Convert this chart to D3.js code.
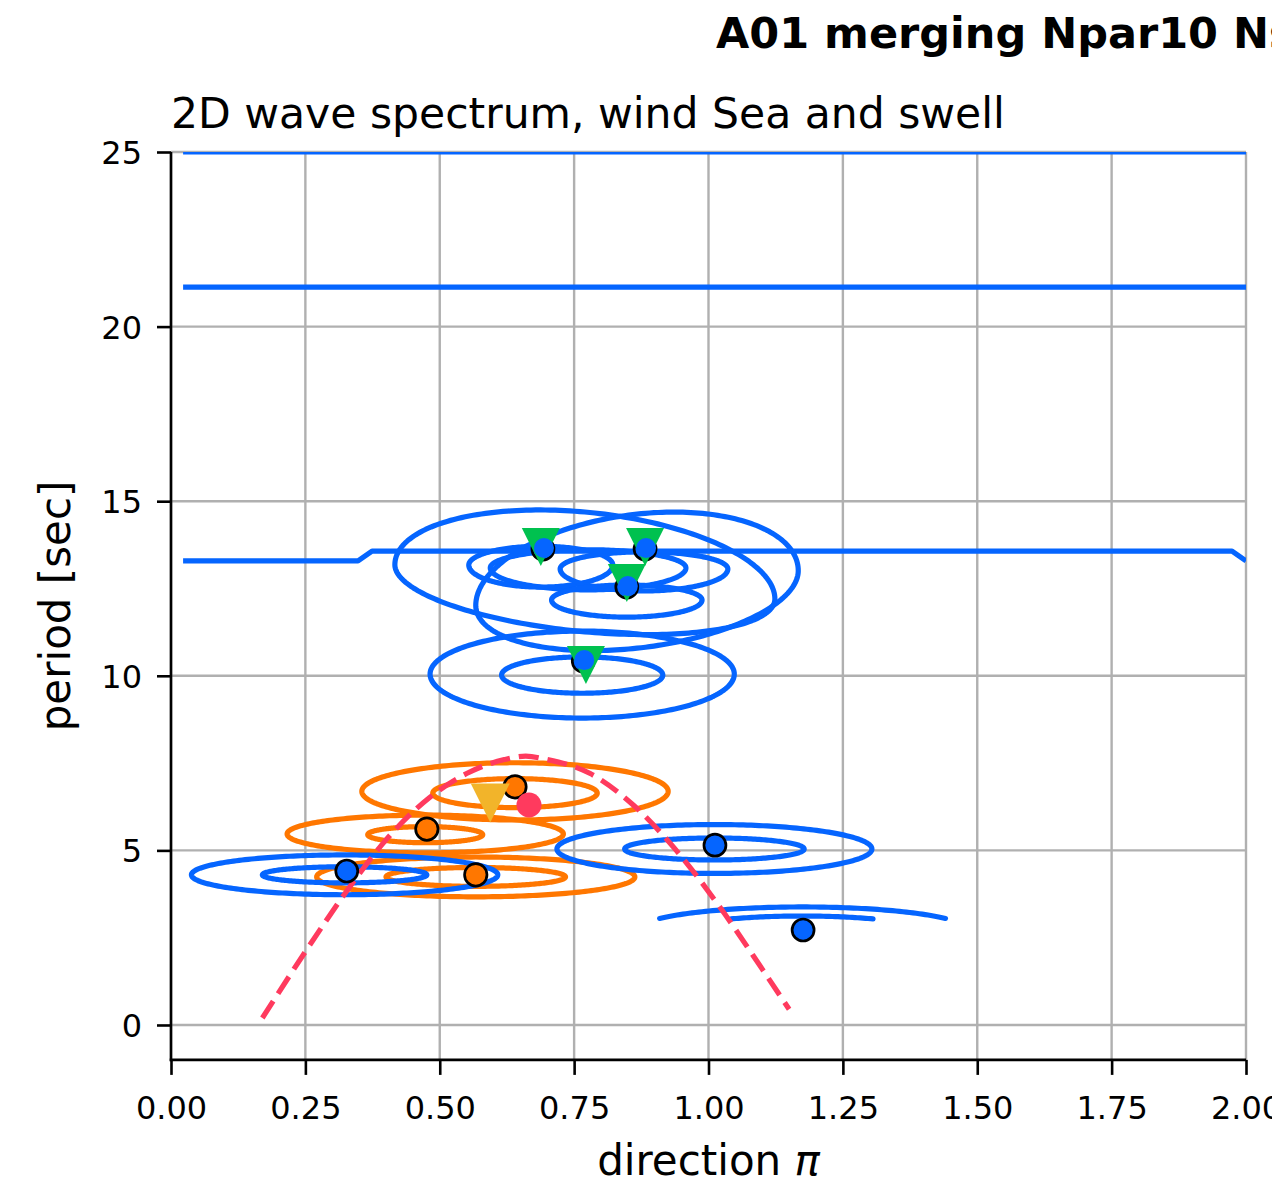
<!DOCTYPE html>
<html><head><meta charset="utf-8">
<script src="https://cdn.jsdelivr.net/npm/d3@7"></script>
<style>
body{margin:0;background:#fff;}
svg{display:block;}
text{font-family:"DejaVu Sans",sans-serif;fill:#000;}
</style>
</head><body>
<svg id="chart" width="1272" height="1188"></svg>
<script>
// ---------------- data ----------------
const xTicks = [0, 0.25, 0.5, 0.75, 1.0, 1.25, 1.5, 1.75, 2.0];
const yTicks = [0, 5, 10, 15, 20, 25];
const suptitleText = "A01 merging Npar10 Ns";
const titleText = "2D wave spectrum, wind Sea and swell";
const xLabelText = "direction ";
const yLabelText = "period [sec]";

// swell separation lines (direction in units of pi, period in s)
const sepLine1Dir = [0.0225, 2.0];
const sepLine1Per = [25.0, 25.0];
const sepLine2Dir = [0.0225, 2.0];
const sepLine2Per = [21.13, 21.13];
const sepLine3Dir = [0.0225, 0.348, 0.374, 1.974, 2.0];
const sepLine3Per = [13.29, 13.29, 13.57, 13.57, 13.29];

// contour shapes: [centerDir, centerPer, halfWidthDir, upperHalfHeight, lowerHalfHeight, tilt, lowerCutPer]
const swellContours = [
  [0.770, 12.69, 0.3535, 2.00, 1.43, -1.385, null],
  [0.867, 12.51, 0.300, 2.12, 1.72, 1.66, null],
  [0.776, 13.09, 0.182, 0.52, 0.63, 0, null],
  [0.688, 13.17, 0.134, 0.54, 0.63, 0, null],
  [0.880, 13.06, 0.156, 0.49, 0.63, 0, null],
  [0.848, 12.17, 0.140, 0.43, 0.49, 0, null],
  [0.765, 10.05, 0.283, 1.23, 1.26, 0, null],
  [0.765, 10.02, 0.150, 0.52, 0.52, 0, null],
  [0.323, 4.30, 0.285, 0.57, 0.57, 0, null],
  [0.323, 4.30, 0.153, 0.23, 0.23, 0, null],
  [1.011, 5.04, 0.293, 0.70, 0.70, 0, null],
  [1.011, 5.04, 0.167, 0.315, 0.315, 0, null],
  [1.175, 2.72, 0.307, 0.66, 0.66, 0, 3.035],
  [1.174, 2.72, 0.217, 0.40, 0.40, 0, 3.035]
];
const windSeaContours = [
  [0.640, 6.69, 0.285, 0.82, 0.82, 0, null],
  [0.640, 6.64, 0.153, 0.415, 0.415, 0, null],
  [0.473, 5.47, 0.257, 0.54, 0.54, 0, null],
  [0.473, 5.45, 0.107, 0.23, 0.23, 0, null],
  [0.567, 4.24, 0.296, 0.57, 0.57, 0, null],
  [0.567, 4.24, 0.167, 0.27, 0.27, 0, null]
];

// wind-sea limit curve
const windSeaDir = [0.17, 0.25, 0.33, 0.40, 0.48, 0.55, 0.62, 0.66, 0.70, 0.78, 0.86, 0.94, 1.02, 1.10, 1.15];
const windSeaPer = [0.2, 2.1, 3.9, 5.3, 6.5, 7.2, 7.6, 7.7, 7.6, 7.2, 6.3, 5.0, 3.4, 1.6, 0.45];

// peaks
const swellPeakDir = [0.692, 0.882, 0.848, 0.767, 0.327, 1.012, 1.176];
const swellPeakPer = [13.63, 13.63, 12.54, 10.42, 4.41, 5.15, 2.72];
const mergedPeakDir = [0.692, 0.882, 0.848, 0.767];
const mergedPeakPer = [13.63, 13.63, 12.54, 10.42];
const mergedTriDir = [0.688, 0.882, 0.848, 0.772];
const mergedTriPer = [13.69, 13.69, 12.66, 10.31];
const windSeaPeakDir = [0.476, 0.640, 0.567];
const windSeaPeakPer = [5.61, 6.82, 4.30];
const windPeakDir = [0.666];
const windPeakPer = [6.30];
const windTriDir = [0.594];
const windTriPer = [6.36];

// ---------------- drawing ----------------
const BLUE = "#0565ff", ORANGE = "#ff7700", RED = "#ff3a5e", GREEN = "#00c14f", GOLD = "#f2b42a";
const LW = 5.2;
const svg = d3.select("#chart");
const x = d3.scaleLinear().domain([0, 2]).range([171, 1246]);
const y = d3.scaleLinear().domain([-1, 25]).range([1059.9, 152]);

svg.append("defs").append("clipPath").attr("id", "plotclip")
  .append("rect").attr("x", x(0)).attr("y", y(25)).attr("width", x(2) - x(0)).attr("height", y(-1) - y(25));

// grid
const grid = svg.append("g");
grid.selectAll("line.vx").data(xTicks).join("line")
  .attr("x1", d => x(d)).attr("x2", d => x(d)).attr("y1", y(25)).attr("y2", y(-1))
  .attr("stroke", "#b0b0b0").attr("stroke-width", 2.4);
grid.selectAll("line.hy").data(yTicks).join("line")
  .attr("x1", x(0)).attr("x2", x(2)).attr("y1", d => y(d)).attr("y2", d => y(d))
  .attr("stroke", "#b0b0b0").attr("stroke-width", 2.4);

const plot = svg.append("g").attr("clip-path", "url(#plotclip)");

function contourPoints(c) {
  const [cx, cy, rx, ryT, ryB, tilt, cut] = c;
  const pts = [];
  const n = 240;
  for (let i = 0; i <= n; i++) {
    const t = i / n * 2 * Math.PI;
    const co = Math.cos(t), si = Math.sin(t);
    const ry = si >= 0 ? ryT : ryB;
    const dx = rx * co;
    const px = cx + dx, py = cy + ry * si + tilt * dx;
    if (cut !== null) {
      if (si < 0 || py < cut) continue;
    }
    pts.push([px, py]);
  }
  return pts;
}
const line = d3.line().x(d => x(d[0])).y(d => y(d[1]));

function drawContours(list, color) {
  plot.append("g").selectAll("path").data(list).join("path")
    .attr("d", c => line(contourPoints(c)) + (c[6] === null ? "Z" : ""))
    .attr("fill", "none").attr("stroke", color).attr("stroke-width", LW)
    .attr("stroke-linejoin", "round").attr("stroke-linecap", "round");
}
drawContours(windSeaContours, ORANGE);
drawContours(swellContours, BLUE);

const sepLines = [
  d3.zip(sepLine1Dir, sepLine1Per),
  d3.zip(sepLine2Dir, sepLine2Per),
  d3.zip(sepLine3Dir, sepLine3Per)
];
plot.append("g").selectAll("path").data(sepLines).join("path")
  .attr("d", line).attr("fill", "none").attr("stroke", BLUE).attr("stroke-width", LW)
  .attr("stroke-linejoin", "round");

// wind sea limit
plot.append("path")
  .attr("d", d3.line().x(d => x(d[0])).y(d => y(d[1])).curve(d3.curveMonotoneX)(d3.zip(windSeaDir, windSeaPer)))
  .attr("fill", "none").attr("stroke", RED).attr("stroke-width", LW).attr("stroke-dasharray", "20,9");

// peaks
const g = plot.append("g");
g.selectAll("circle.sw").data(d3.zip(swellPeakDir, swellPeakPer)).join("circle")
  .attr("cx", d => x(d[0])).attr("cy", d => y(d[1])).attr("r", 11)
  .attr("fill", BLUE).attr("stroke", "#000").attr("stroke-width", 2.7);
g.selectAll("circle.ws").data(d3.zip(windSeaPeakDir, windSeaPeakPer)).join("circle")
  .attr("cx", d => x(d[0])).attr("cy", d => y(d[1])).attr("r", 11.2)
  .attr("fill", ORANGE).attr("stroke", "#000").attr("stroke-width", 2.7);

function triPath(d, h) {
  const cx = x(d[0]), cy = y(d[1]);
  return `M${cx - h},${cy - h}L${cx + h},${cy - h}L${cx},${cy + h}Z`;
}
g.selectAll("path.wt").data(d3.zip(windTriDir, windTriPer)).join("path")
  .attr("d", d => triPath(d, 19.5)).attr("fill", GOLD);
g.selectAll("circle.wp").data(d3.zip(windPeakDir, windPeakPer)).join("circle")
  .attr("cx", d => x(d[0])).attr("cy", d => y(d[1])).attr("r", 12.5).attr("fill", RED);
g.selectAll("path.mt").data(d3.zip(mergedTriDir, mergedTriPer)).join("path")
  .attr("d", d => triPath(d, 19)).attr("fill", GREEN);
g.selectAll("circle.mp").data(d3.zip(mergedPeakDir, mergedPeakPer)).join("circle")
  .attr("cx", d => x(d[0]) + 1).attr("cy", d => y(d[1]) - 1).attr("r", 10).attr("fill", BLUE);

// axes
const xAxis = d3.axisBottom(x).tickValues(xTicks).tickFormat(d3.format(".2f")).tickSize(15).tickPadding(21).tickSizeOuter(0);
const yAxis = d3.axisLeft(y).tickValues(yTicks).tickFormat(d3.format("d")).tickSize(14).tickPadding(15).tickSizeOuter(0);
const gx = svg.append("g").attr("transform", `translate(0,${y(-1)})`).call(xAxis);
const gy = svg.append("g").attr("transform", `translate(${x(0)},0)`).call(yAxis);
[gx, gy].forEach(a => {
  a.select(".domain").remove();
  a.selectAll(".tick line").attr("stroke", "#000").attr("stroke-width", 2.6);
  a.selectAll(".tick text").attr("font-size", 32).attr("font-family", "DejaVu Sans").attr("fill", "#000");
});
gy.selectAll(".tick text").attr("dy", "0.36em");
// spines
svg.append("line").attr("x1", x(0)).attr("x2", x(0)).attr("y1", y(25)).attr("y2", y(-1) + 1.3)
  .attr("stroke", "#000").attr("stroke-width", 2.6);
svg.append("line").attr("x1", x(0) - 1.3).attr("x2", x(2)).attr("y1", y(-1)).attr("y2", y(-1))
  .attr("stroke", "#000").attr("stroke-width", 2.6);

// labels
const xl = svg.append("text").attr("x", (x(0) + x(2)) / 2).attr("y", 1175)
  .attr("text-anchor", "middle").attr("font-size", 42);
xl.append("tspan").text(xLabelText);
xl.append("tspan").attr("font-style", "italic").text("π");
svg.append("text").attr("transform", `translate(70,${(y(25) + y(-1)) / 2}) rotate(-90)`)
  .attr("text-anchor", "middle").attr("font-size", 42).text(yLabelText);
svg.append("text").attr("x", 171).attr("y", 128).attr("font-size", 42.5).text(titleText);
svg.append("text").attr("x", 716).attr("y", 48).attr("font-size", 43).attr("font-weight", "bold").text(suptitleText);
</script>
</body></html>
